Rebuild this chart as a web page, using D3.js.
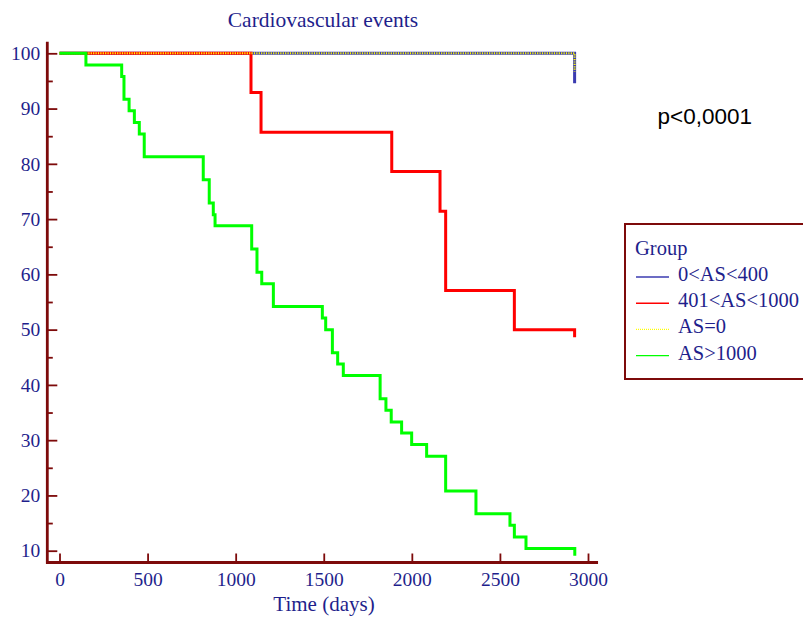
<!DOCTYPE html>
<html>
<head>
<meta charset="utf-8">
<script src="https://cdn.jsdelivr.net/npm/d3@7"></script>
<style>
  html, body { margin: 0; padding: 0; background: #ffffff; }
  svg { display: block; }
</style>
</head>
<body>
<svg id="chart" width="803" height="623"></svg>
<script>
// ---- data ----
const title = "Cardiovascular events";
const xLabel = "Time (days)";
const pText = "p<0,0001";
const legendTitle = "Group";
const groups = ["0<AS<400", "401<AS<1000", "AS=0", "AS>1000"];

const xTicks = [0, 500, 1000, 1500, 2000, 2500, 3000];
const yTicks = [10, 20, 30, 40, 50, 60, 70, 80, 90, 100];
const yMinorTicks = [15, 25, 35, 45, 55, 65, 75, 85, 95];

const blueTimes = [0, 2924];
const blueValues = [100, 94.6];

const redTimes = [0, 1087, 1144, 1886, 2160, 2192, 2582, 2924];
const redValues = [100, 92.9, 85.7, 78.6, 71.4, 57.1, 50.0, 48.6];

const yellowTimes = [0, 2924];
const yellowValues = [100, 96.7];

const greenTimes = [0, 150, 353, 366, 395, 425, 453, 481, 816, 850, 873, 883,
  1091, 1121, 1148, 1214, 1492, 1511, 1549, 1579, 1611, 1820, 1853, 1883,
  1942, 1999, 2084, 2192, 2364, 2557, 2582, 2648, 2925];
const greenValues = [100, 97.9, 95.8, 91.7, 89.6, 87.5, 85.4, 81.3, 77.1, 72.9, 70.8, 68.8,
  64.6, 60.4, 58.3, 54.2, 52.1, 50.0, 45.8, 43.8, 41.7, 37.5, 35.4, 33.3,
  31.3, 29.2, 27.1, 20.8, 16.7, 14.6, 12.5, 10.4, 9.1];

// ---- styles ----
const axisColor = "#7d0a0a";
const textColor = "#1f1f8c";
const serif = "'Liberation Serif', 'Times New Roman', serif";
const sans = "'Liberation Sans', Arial, sans-serif";

const series = [
  { name: groups[0], times: blueTimes, values: blueValues, color: "#3b3bb0", width: 3, dash: null, legendWidth: 1.4 },
  { name: groups[1], times: redTimes, values: redValues, color: "#ff0000", width: 3, dash: null, legendWidth: 1.4 },
  { name: groups[2], times: yellowTimes, values: yellowValues, color: "#ffff00", width: 2, dash: "1.2,1.2", legendWidth: 1.4 },
  { name: groups[3], times: greenTimes, values: greenValues, color: "#00ff00", width: 3, dash: null, legendWidth: 1.4 }
];

const svg = d3.select("#chart");

const x = d3.scaleLinear().domain([0, 3000]).range([59.5, 588]);
const y = d3.scaleLinear().domain([10, 100]).range([550.7, 53.3]);

const axisX = 47.3;           // pixel position of the y axis line
const axisY = 562.5;          // pixel position of the x axis line

// title
svg.append("text")
  .attr("x", 323).attr("y", 26.5)
  .attr("text-anchor", "middle")
  .attr("font-family", serif).attr("font-size", 21.5)
  .attr("fill", textColor)
  .text(title);

// curves
const line = d3.line()
  .x(d => x(d[0]))
  .y(d => y(d[1]))
  .curve(d3.curveStepAfter);

const curvesG = svg.append("g");
series.forEach(s => {
  const pts = s.times.map((t, i) => [t, s.values[i]]);
  curvesG.append("path")
    .attr("d", line(pts))
    .attr("fill", "none")
    .attr("stroke", s.color)
    .attr("stroke-width", s.width)
    .attr("stroke-dasharray", s.dash)
    .attr("stroke-linejoin", "miter");
});

// y axis
const yAxis = d3.axisLeft(y).tickValues(yTicks).tickSizeInner(-10).tickSizeOuter(0).tickPadding(7)
  .tickFormat(d3.format("d"));
const yG = svg.append("g").attr("transform", `translate(${axisX},0)`).call(yAxis);
const yMinor = d3.axisLeft(y).tickValues(yMinorTicks).tickSizeInner(-5.5).tickSizeOuter(0).tickFormat("");
const yGm = svg.append("g").attr("transform", `translate(${axisX},0)`).call(yMinor);

// x axis
const xAxis = d3.axisBottom(x).tickValues(xTicks).tickSizeInner(-9).tickSizeOuter(0).tickPadding(10)
  .tickFormat(d3.format("d"));
const xG = svg.append("g").attr("transform", `translate(0,${axisY})`).call(xAxis);

[yG, yGm, xG].forEach(g => {
  g.select(".domain").remove();
  g.selectAll(".tick line").attr("stroke", axisColor).attr("stroke-width", 1.8);
  g.selectAll(".tick text")
    .attr("fill", textColor)
    .attr("font-family", serif)
    .attr("font-size", 19.5);
});

// axis lines
svg.append("line")
  .attr("x1", axisX).attr("x2", axisX)
  .attr("y1", y(102.1)).attr("y2", axisY + 1.3)
  .attr("stroke", axisColor).attr("stroke-width", 2.8);
svg.append("line")
  .attr("x1", axisX - 1.3).attr("x2", x(3057))
  .attr("y1", axisY).attr("y2", axisY)
  .attr("stroke", axisColor).attr("stroke-width", 2.8);

// x label
svg.append("text")
  .attr("x", 324).attr("y", 611)
  .attr("text-anchor", "middle")
  .attr("font-family", serif).attr("font-size", 21)
  .attr("fill", textColor)
  .text(xLabel);

// p value
svg.append("text")
  .attr("x", 657.5).attr("y", 123.5)
  .attr("font-family", sans).attr("font-size", 22.5)
  .attr("fill", "#000000")
  .text(pText);

// legend
const lg = svg.append("g");
lg.append("rect")
  .attr("x", 625).attr("y", 224)
  .attr("width", 190).attr("height", 155)
  .attr("fill", "#ffffff")
  .attr("stroke", axisColor).attr("stroke-width", 2);
lg.append("text")
  .attr("x", 635).attr("y", 255)
  .attr("font-family", serif).attr("font-size", 20.5)
  .attr("fill", textColor)
  .text(legendTitle);
series.forEach((s, i) => {
  const base = 281 + i * 26.2;
  lg.append("line")
    .attr("x1", 636).attr("x2", 669)
    .attr("y1", base - 4).attr("y2", base - 4)
    .attr("stroke", s.color)
    .attr("stroke-width", s.legendWidth)
    .attr("stroke-dasharray", s.dash ? "1,1" : null);
  lg.append("text")
    .attr("x", 678).attr("y", base)
    .attr("font-family", serif).attr("font-size", 20.5)
    .attr("fill", textColor)
    .text(s.name);
});
</script>
</body>
</html>
